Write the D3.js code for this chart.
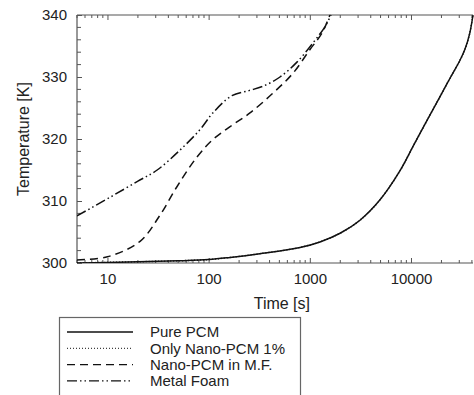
<!DOCTYPE html>
<html>
<head>
<meta charset="utf-8">
<script src="https://cdn.jsdelivr.net/npm/d3@7"></script>
<style>
  html, body { margin: 0; padding: 0; background: #fff; }
  svg { display: block; }
  text { font-family: "Liberation Sans", Arial, sans-serif; fill: #222; }
</style>
</head>
<body>
<svg id="chart" width="474" height="395"></svg>
<script>
// ---- data ----
const seriesNames = ["Pure PCM", "Only Nano-PCM 1%", "Nano-PCM in M.F.", "Metal Foam"];

const purePcmTime = [5, 10, 20, 50, 100, 163, 320, 800, 1260, 1990, 3130, 4940, 7790, 10470, 14400, 19300, 24300, 30500, 34200, 38000, 41000];
const purePcmTemp = [300.0, 300.1, 300.2, 300.35, 300.55, 300.9, 301.5, 302.5, 303.4, 304.8, 306.9, 310.2, 314.9, 318.8, 323.0, 326.8, 329.8, 332.7, 334.5, 337.0, 340.0];

const nanoPcmTime = [5, 10, 20, 50, 100, 163, 320, 800, 1260, 1990, 3130, 4940, 7790, 10470, 14400, 19300, 24300, 30500, 34200, 38000, 41000];
const nanoPcmTemp = [300.0, 300.1, 300.2, 300.35, 300.55, 300.9, 301.5, 302.5, 303.4, 304.8, 306.9, 310.2, 314.9, 318.8, 323.0, 326.8, 329.8, 332.7, 334.5, 337.0, 340.0];

const nanoMfTime = [5, 10, 21, 33, 48.6, 76.7, 110, 163, 256, 432, 681, 1000, 1320, 1580];
const nanoMfTemp = [300.5, 301.0, 303.5, 307.7, 312.3, 317.1, 319.9, 322.0, 324.2, 327.4, 330.6, 334.4, 337.1, 340.0];

const metalFoamTime = [5, 10.6, 20, 31, 52, 82, 110, 170, 250, 344, 507, 746, 1075, 1410, 1620];
const metalFoamTemp = [307.6, 310.6, 313.2, 315.0, 318.2, 321.5, 324.2, 327.0, 327.8, 328.5, 330.0, 332.4, 335.5, 338.1, 340.0];

const xMajorTicks = [10, 100, 1000, 10000];
const yMajorTicks = [300, 310, 320, 330, 340];

// ---- layout ----
const svg = d3.select("#chart");
const mLeft = 77, mRight = 473, mTop = 15, mBottom = 263;

const x = d3.scaleLog().domain([5, 41000]).range([mLeft, mRight]);
const y = d3.scaleLinear().domain([300, 340]).range([mBottom, mTop]);

const axisColor = "#555";

// minor ticks on log x axis
const xMinor = [];
[1, 10, 100, 1000, 10000].forEach(d => {
  for (let k = 2; k <= 9; k++) { const v = d * k; if (v >= 5 && v <= 41000) xMinor.push(v); }
});
const yMinor = d3.range(300, 341, 2).filter(v => v % 10 !== 0);

// bottom axis
const gB = svg.append("g").attr("transform", `translate(0,${mBottom})`);
gB.call(d3.axisBottom(x).tickValues(xMajorTicks).tickSize(-5).tickPadding(10).tickFormat(d3.format("d")));
gB.append("g").selectAll("line").data(xMinor).join("line")
  .attr("x1", d => x(d)).attr("x2", d => x(d)).attr("y1", 0).attr("y2", -3);

// top axis
const gT = svg.append("g").attr("transform", `translate(0,${mTop})`);
gT.call(d3.axisTop(x).tickValues(xMajorTicks).tickSize(-5).tickFormat(""));
gT.append("g").selectAll("line").data(xMinor).join("line")
  .attr("x1", d => x(d)).attr("x2", d => x(d)).attr("y1", 0).attr("y2", 3);

// left axis
const gL = svg.append("g").attr("transform", `translate(${mLeft},0)`);
gL.call(d3.axisLeft(y).tickValues(yMajorTicks).tickSize(-5).tickPadding(10).tickFormat(d3.format("d")));
gL.append("g").selectAll("line").data(yMinor).join("line")
  .attr("x1", 0).attr("x2", 4).attr("y1", d => y(d)).attr("y2", d => y(d));

[gB, gT, gL].forEach(g => {
  g.selectAll(".domain").attr("stroke", axisColor).attr("stroke-width", 1.2);
  g.selectAll("line").attr("stroke", axisColor).attr("stroke-width", 1);
  g.selectAll("text").style("font-size", "15px").attr("fill", "#222")
    .style("font-family", '"Liberation Sans", Arial, sans-serif');
});
gB.select(".domain").attr("d", `M${mLeft},0H${mRight}`);
gT.select(".domain").attr("d", `M${mLeft},0H${mRight}`);
gL.select(".domain").attr("d", `M0,${mBottom}V${mTop}`);

// axis titles
svg.append("text").attr("x", 310).attr("y", 309).attr("text-anchor", "end")
  .style("font-size", "16px").text("Time [s]");
svg.append("text").attr("transform", `translate(29,139) rotate(-90)`).attr("text-anchor", "middle")
  .style("font-size", "16px").text("Temperature [K]");

// clip
svg.append("clipPath").attr("id", "clip").append("rect")
  .attr("x", mLeft).attr("y", mTop - 1).attr("width", mRight - mLeft + 2).attr("height", mBottom - mTop + 1);

const styles = [
  { dash: null },
  { dash: "1,2" },
  { dash: "8,5" },
  { dash: "10,3,1.5,3,1.5,3" }
];
const seriesData = [
  purePcmTime.map((t, i) => [t, purePcmTemp[i]]),
  nanoPcmTime.map((t, i) => [t, nanoPcmTemp[i]]),
  nanoMfTime.map((t, i) => [t, nanoMfTemp[i]]),
  metalFoamTime.map((t, i) => [t, metalFoamTemp[i]])
];

const line = d3.line().x(d => x(d[0])).y(d => y(d[1])).curve(d3.curveCatmullRom.alpha(0.5));
const plot = svg.append("g").attr("clip-path", "url(#clip)");
[1, 0, 2, 3].forEach(i => {
  plot.append("path").datum(seriesData[i])
    .attr("d", line).attr("fill", "none").attr("stroke", "#111")
    .attr("stroke-width", 1.5)
    .attr("stroke-dasharray", styles[i].dash);
});

// legend
const lg = svg.append("g");
lg.append("rect").attr("x", 59.5).attr("y", 317.5).attr("width", 241).attr("height", 100)
  .attr("fill", "#fff").attr("stroke", "#666").attr("stroke-width", 1.2);
seriesNames.forEach((name, i) => {
  const yy = 332 + i * 16.3;
  lg.append("line").attr("x1", 67).attr("x2", 133).attr("y1", yy).attr("y2", yy)
    .attr("stroke", "#111").attr("stroke-width", i === 1 ? 1 : 1.3)
    .attr("stroke-dasharray", styles[i].dash);
  lg.append("text").attr("x", 150).attr("y", yy).attr("dy", "0.35em")
    .style("font-size", "15px").text(name);
});
</script>
</body>
</html>
